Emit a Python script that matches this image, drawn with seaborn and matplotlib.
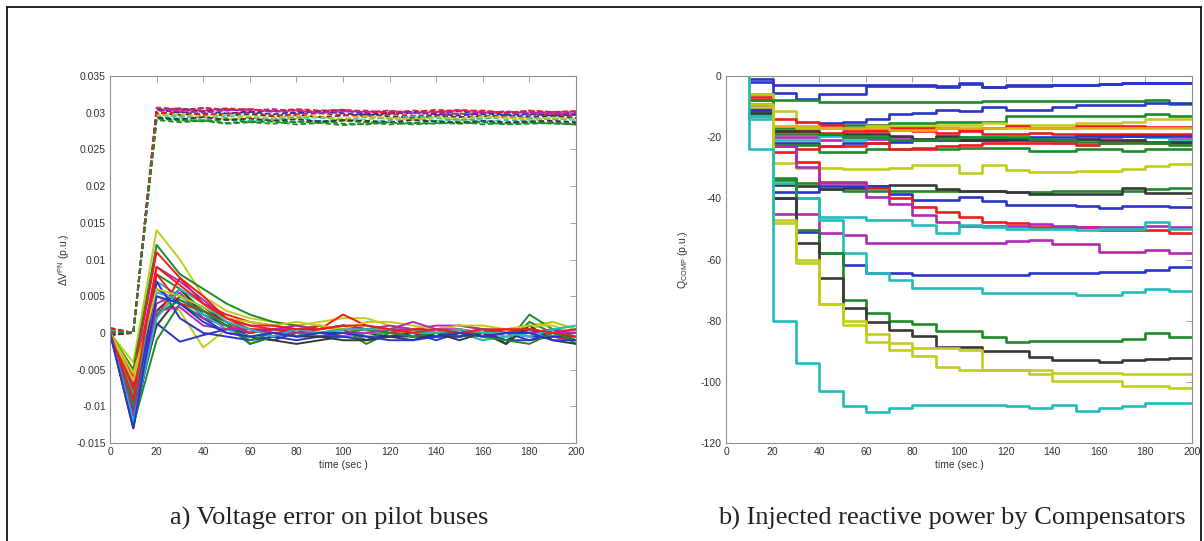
import matplotlib
matplotlib.use("Agg")
import matplotlib.pyplot as plt
import numpy as np
import pandas as pd
import seaborn as sns
from matplotlib.ticker import FuncFormatter, MultipleLocator
from matplotlib.lines import Line2D

# ---------------- data ----------------
t_left = list(range(0, 201, 10))

# voltage error, solid lines (values in 1e-3 p.u.)
solid_colors = ["y", "g", "r", "m", "g", "c", "b", "y", "k", "r", "b", "g",
                "m", "c", "b", "r", "k", "y", "g", "m", "c", "r", "b"]
solid_values = [
    [0, -4, 14, 10, 5, 3, 2, 1.5, 1, 1.5, 2, 2, 1, 0.5, 0, 0.5, 0, 0.5, 1, 1.5, 0.5],
    [0, -5, 12, 8, 6, 4, 2.5, 1.5, 1, 0.5, 1, 0.5, 0, 0.5, 0, -0.5, 0, 0, 0.5, 0, -1],
    [0, -6, 11, 7.5, 4, 2.5, 1.5, 1, 0.5, 0.5, 2.5, 1, 0.5, 0, 0, 0.5, -0.5, 0, 0, 0.5, 0],
    [0, -7, 9, 7, 4.5, 2, 1, 0.5, 1, 0.5, 1, 0.5, 1, 0.5, 0.5, 1, 0.5, 0, 0, 0.5, 0],
    [0, -8, 8, 6, 3, 1.5, -1.5, -0.5, 0, 0, 0.5, -1.5, 0, 0, 0.5, 0, 0.5, -1.5, 2.5, 0.5, -1.5],
    [0, -9, 7, 5, 3, 1, 0, 0.5, 0, -0.5, 0, 0, 0.5, 0, 0, -0.5, 0, -0.5, 0, 0, 0.5],
    [0, -10, 6, 4, 2, 0, -0.5, -1, 0, -0.5, 0, -0.5, -0.5, 0, -1, 0, 0, 0, -1, 0, 0],
    [0, -5.5, 5, 3, -2, 0.5, 0.5, 0, 0.5, 1, 0, 0.5, 0, 0, 0.5, 0, -1, 0, 0.5, 1.5, 0.5],
    [0, -13, 3, 6, 2.5, 1, -0.5, -1, -1.5, -1, -0.5, 0, -0.5, 0, -0.5, -0.5, 0, -1, 0.5, -0.5, -1],
    [0, -11, 2, 7.5, 5, 2, 0.5, 0.5, 0, 0.5, 1, 0.5, 0, 0.5, 0, 0, -0.5, 0, 0, -0.5, -1],
    [0, -12, 1.3, -1.2, -0.3, 0.5, 0, 0.5, 0, 0, -0.5, 0, 0, -0.5, -0.5, 0, 0, 0, -0.5, -0.5, 0],
    [0, -12.5, -1, 4, 2, 1, -1.5, -0.5, 0, 0, 0.5, -1, 0.5, 0, 0, -0.5, 0, -1.5, 1.5, 0, -1],
    [0, -9.5, 4, 5.5, 2, 1, 0, 0.5, 0.5, 1, 0.5, 0.5, 0.5, 0.5, 1, 1, 0.5, 0, 0.5, 0, 0],
    [0, -8.5, 5.5, 4.5, 2.5, 0.5, -0.5, 0, 0, -0.5, -0.5, 0, 0, 0.5, 0, 0, -1, -0.5, 0, -0.5, 0.5],
    [0, -11.5, 7, 2, 0, -0.5, -1, -0.5, -1, -0.5, -0.5, -1, -0.5, -0.5, -0.5, -0.5, 0, -1, -1, -0.5, -0.5],
    [0, -7.5, 8, 4, 3, 1.5, 0, 0.5, 0, 1, 0.5, 0.5, 0, 0.5, 0.5, 0, 0, 0.5, 0, 0, -0.5],
    [0, -10.5, 1, 5, 3.5, 1.5, 0.5, 0, -0.5, -0.5, -1, -1, -0.5, -1, 0, -1, 0, -1.5, 1, -1, -1.5],
    [0, -6.5, 6, 5, 3.5, 2, 1.5, 1, 1.5, 1, 0.5, 1.5, 1.5, 1, 0.5, 1, 1, 0.5, 1, 1, 0],
    [0, -10, 2.5, 4.5, 3, 1, -1, 0, -0.5, 0, 0, 0.5, 0, -0.5, 0, 0, -0.5, -1, -1.5, 0, -1],
    [0, -11, 3, 3.5, 1, 0.5, 0.5, 0, 0, 0, 0, 0, 0.5, 1.5, 0.5, 0.5, 0, 0, 0, 0, 0],
    [0, -12, 2, 6, 4, 1.5, 0.5, -0.5, 0.5, 0, 0.5, 0.5, 0.5, 0, 0, 0.5, 0, 0, -0.5, 0.5, 1],
    [0, -9, 9, 6.5, 4, 2, 1, 1, 0.5, 0.5, 1, 1, 0.5, 0, 0.5, 0, 0.5, 0.5, 0.5, 0, 0.5],
    [0, -13, 5, 4, 1.5, 0, -0.5, 0, -0.5, 0, 0, -0.5, -1, -1, -0.5, 0, -0.5, 0, 0, -1, -1],
]

# voltage error, dashed lines (values in 1e-3 p.u.)
dashed_colors = ["r", "b", "m", "g", "c", "y", "k", "r", "b", "g", "c", "m", "y", "k", "r", "g"]
dashed_values = [
    [0.5, 0, 30.5, 30.4, 30.6, 30.3, 30.5, 30.2, 30.4, 30.1, 30.3, 30.0, 30.2, 30.1, 30.4, 30.2, 30.3, 30.0, 30.2, 30.1, 30.2],
    [0.3, 0, 30.3, 30.6, 30.2, 30.5, 30.1, 30.3, 29.9, 30.2, 30.4, 29.8, 30.0, 30.1, 29.9, 30.2, 29.8, 30.1, 29.9, 30.0, 29.8],
    [0.6, 0, 30.6, 30.2, 30.7, 30.4, 30.3, 30.5, 30.2, 30.0, 30.1, 30.3, 29.9, 30.0, 30.2, 29.8, 30.0, 29.9, 30.1, 29.8, 29.9],
    [-0.2, 0, 29.2, 28.9, 29.0, 28.6, 28.8, 29.0, 28.7, 28.9, 28.5, 28.4, 28.7, 28.6, 28.9, 28.6, 28.8, 28.5, 28.6, 28.7, 28.5],
    [0, 0, 29.5, 29.2, 29.0, 29.3, 28.9, 29.1, 29.4, 28.8, 29.0, 28.7, 29.0, 29.2, 28.9, 29.1, 28.8, 29.0, 28.9, 29.2, 29.0],
    [0.4, 0, 29.8, 29.4, 29.6, 29.1, 29.3, 29.0, 29.2, 29.5, 28.9, 29.1, 29.3, 29.0, 29.4, 29.0, 29.2, 29.3, 29.1, 29.4, 29.2],
    [0.2, 0, 30.0, 29.7, 29.9, 29.6, 29.8, 29.5, 29.7, 29.4, 29.6, 29.8, 29.5, 29.3, 29.6, 29.4, 29.5, 29.7, 29.4, 29.6, 29.3],
    [-0.3, 0, 29.9, 30.1, 29.7, 29.9, 30.0, 29.6, 29.8, 29.9, 29.7, 29.5, 29.8, 29.6, 29.7, 29.9, 29.6, 29.5, 29.7, 29.8, 29.6],
    [0.7, 0, 30.4, 30.0, 30.2, 29.9, 30.1, 29.8, 30.0, 30.2, 29.9, 29.7, 29.9, 30.0, 29.8, 29.6, 29.9, 29.7, 29.8, 29.6, 29.7],
    [0.1, 0, 29.4, 29.0, 28.8, 29.1, 28.7, 28.5, 28.8, 28.6, 28.9, 28.7, 28.4, 28.6, 28.5, 28.8, 28.4, 28.6, 28.7, 28.5, 28.4],
    [0.5, 0, 29.7, 29.5, 29.3, 29.6, 29.4, 29.2, 29.5, 29.3, 29.1, 29.4, 29.2, 29.5, 29.3, 29.0, 29.2, 29.4, 29.3, 29.1, 29.2],
    [-0.1, 0, 30.2, 30.4, 30.0, 30.3, 30.5, 30.1, 30.3, 30.0, 30.2, 30.1, 30.3, 29.9, 30.1, 30.3, 30.0, 30.2, 29.9, 30.1, 30.0],
    [0.3, 0, 29.6, 29.8, 29.4, 29.7, 29.5, 29.3, 29.6, 29.4, 29.2, 29.5, 29.3, 29.1, 29.4, 29.2, 29.5, 29.3, 29.0, 29.3, 29.1],
    [-0.3, 0, 29.3, 29.1, 29.4, 29.0, 29.2, 28.9, 29.1, 28.8, 29.0, 28.9, 28.7, 29.0, 28.8, 28.6, 28.9, 28.7, 28.8, 28.9, 28.7],
    [0.6, 0, 30.7, 30.5, 30.3, 30.6, 30.4, 30.2, 30.5, 30.3, 30.4, 30.2, 30.0, 30.3, 30.1, 30.4, 30.2, 30.0, 30.3, 30.1, 30.2],
    [0.2, 0, 29.0, 28.7, 28.9, 28.5, 28.7, 28.8, 28.4, 28.6, 28.3, 28.5, 28.7, 28.4, 28.6, 28.5, 28.7, 28.4, 28.5, 28.6, 28.4],
]

# injected reactive power, step values at t = 10, 20, ..., 190 (held to 200)
t_right = list(range(10, 191, 10))
t_end = 200
q_start = 0
step_colors = ["b", "b", "g", "b", "g", "y", "r", "r", "m", "c", "b", "g", "r", "k", "g", "o",
               "y", "g", "k", "b", "r", "m", "c", "m", "b", "c", "g", "k", "y", "y", "c"]
step_values = [
    [-1, -3, -3, -3, -3, -3, -3, -3, -3.5, -2.2, -3.7, -3, -3, -3, -3, -2.5, -2.4, -2.4, -2.4],
    [-2, -5.7, -7.6, -6, -6, -3.3, -3.3, -3.3, -3.3, -2.5, -3.6, -3.2, -3.2, -3.0, -2.8, -2.6, -2.4, -2.4, -2.4],
    [-6, -8, -8, -8.5, -8.5, -8.5, -8.5, -8.5, -8.5, -8.5, -8.3, -8.3, -8.3, -8.3, -8.3, -8.3, -8.3, -7.8, -9],
    [-8, -18, -17, -15.5, -15, -14, -12.5, -12, -11, -11.3, -10, -11, -11, -10, -9.5, -9.5, -9.5, -8.8, -8.8],
    [-10, -17, -17, -17, -16, -16, -15.5, -15.5, -15, -15, -15, -13, -13, -13, -13, -13, -13, -12.5, -13],
    [-12, -11.6, -17, -17, -17, -16.5, -16.5, -16.5, -16, -16, -15.5, -16, -16, -16, -15.5, -15.5, -15, -14, -14],
    [-8, -14, -15, -16, -17, -17.5, -17, -17, -17, -17.5, -17, -16.5, -17, -17, -16.5, -16.5, -16.5, -16.6, -16.6],
    [-10, -18, -18, -18.5, -18, -18, -17.5, -18, -18.5, -18, -19, -19, -18.5, -19, -19, -19, -19, -19, -19],
    [-9, -20, -20, -21, -20, -20.5, -20, -20.5, -21, -21, -21, -20.5, -20.5, -21, -20.5, -20, -19.5, -20, -20.5],
    [-14, -21, -21, -19.5, -21, -20, -21, -21, -19.8, -19.8, -20, -20.5, -21, -22, -22.5, -21.5, -21, -20, -21],
    [-12, -22, -22, -23, -22, -22, -21.5, -21, -21, -21, -20.5, -20.5, -20, -20, -19.5, -19.5, -19.5, -19.5, -19.6],
    [-11, -22.5, -22.5, -25, -25, -24, -24, -23.5, -24, -23.5, -23.5, -23.5, -24.5, -24.5, -24, -24, -24.5, -24, -24],
    [-7, -23, -24, -23, -23, -22, -24, -24, -23, -22.5, -22, -22, -22, -22, -22.5, -22, -21.5, -22, -22],
    [-10, -18, -18, -19, -19, -19, -19.5, -20.5, -19.5, -21, -21, -21, -21, -21, -20.5, -21, -21, -21.5, -21.5],
    [-13, -19, -19, -19, -20, -20, -21, -21, -20.5, -20, -20, -20, -20.5, -21, -21.5, -22, -22, -22, -22.5],
    [-13, -16.5, -16.5, -17, -17, -17, -17.5, -17.5, -17, -17, -17, -17, -17, -17, -17, -17, -17, -17, -17],
    [-6, -28.5, -30, -30, -30.5, -30.5, -30, -29, -29, -31.6, -29, -30.7, -31.5, -31.5, -31, -31, -30.5, -29.5, -28.7],
    [-8, -33.5, -35, -37, -37.5, -37.5, -37.5, -37.5, -37.5, -37.5, -37.5, -38, -38, -37.5, -37.5, -37.5, -37.5, -37, -36.7],
    [-12, -35.5, -36, -37, -36.5, -36, -35.5, -35.5, -37, -37.5, -37.5, -38, -38.5, -38.5, -38.5, -38.5, -36.5, -38.3, -38.3],
    [-10, -38, -38, -36, -36, -36, -38.5, -40.5, -40.5, -39.5, -41, -42.2, -42.2, -42.2, -42.5, -43, -42.5, -42.5, -42.7],
    [-9, -25, -28, -34.5, -34.5, -36.7, -40, -42.7, -44.4, -46, -47.6, -48, -49.3, -49.3, -49.3, -50.4, -50.4, -50.4, -51.4],
    [-11, -23, -29.6, -35, -35, -39.5, -42, -45.5, -47.6, -49, -49, -49, -48.5, -49, -49.5, -49.5, -49.5, -49, -49.3],
    [-13, -40, -40, -46, -46, -47, -47, -48.7, -51.4, -48.7, -49.5, -50, -50, -50, -50.5, -50, -50, -47.6, -50],
    [-10, -45, -45, -51.4, -52, -54.7, -54.7, -54.5, -54.5, -54.5, -54.5, -54, -53.6, -55, -55, -57.4, -57.4, -57, -58],
    [-11, -40, -51, -58, -61.8, -64.5, -64.5, -65, -65, -65, -65, -65, -64.5, -64.5, -64.5, -64, -64, -63.5, -62.3],
    [-12, -35, -40, -47, -58, -64.5, -66.7, -69.4, -69.4, -69.4, -71, -71, -71, -71, -71.5, -71.5, -70.5, -69.5, -70.3],
    [-8, -34, -50.4, -58, -73.3, -77.5, -80, -81, -83.4, -83.4, -85.5, -87, -86.5, -86.5, -86.5, -86.5, -86, -84, -85.5],
    [-12, -40, -54.5, -66, -76, -80.3, -83, -85, -88.5, -88.5, -90, -90, -91.8, -93, -93, -93.5, -93, -92.5, -92.3],
    [-10, -48, -60, -74.5, -81.5, -84.5, -87.2, -88.9, -88.9, -89.5, -96, -96, -96, -97, -97, -97, -97.5, -97.5, -97.5],
    [-9, -47, -61, -74.5, -80, -87, -89.6, -91.5, -95, -96, -96, -96, -97.6, -99.8, -99.8, -99.8, -101.5, -101.5, -102],
    [-24, -80, -94, -103, -108, -110, -108.6, -107.6, -107.6, -107.6, -107.6, -108, -108.6, -107.5, -109.6, -108.6, -107.8, -107, -107],
]

left_caption = "a) Voltage error on pilot buses"
right_caption = "b) Injected reactive power by Compensators"

# ---------------- style ----------------
color_map = {"b": "#2a34c8", "g": "#1f8a2a", "r": "#f01c1c", "c": "#22bcbc",
             "m": "#b22ab4", "y": "#c2cc1c", "k": "#383838", "o": "#dcb020"}

sns.set_theme(style="white")
plt.rcParams["font.family"] = ["Liberation Sans", "DejaVu Sans"]
plt.rcParams["mathtext.fontset"] = "custom"
plt.rcParams["mathtext.rm"] = "Liberation Sans"
plt.rcParams["mathtext.it"] = "Liberation Sans"

fig = plt.figure(figsize=(12.04, 5.41), dpi=100)
fig.patch.set_facecolor("white")
ax1 = fig.add_axes([110 / 1204, 1 - 443 / 541, 466 / 1204, 367 / 541])
ax2 = fig.add_axes([726 / 1204, 1 - 443 / 541, 466 / 1204, 367 / 541])

# ---------------- left panel ----------------
rows = []
for i, vals in enumerate(solid_values):
    for t, v in zip(t_left, vals):
        rows.append({"t": t, "v": v / 1000.0, "id": f"s{i}"})
df_s = pd.DataFrame(rows)
pal_s = {f"s{i}": color_map[c] for i, c in enumerate(solid_colors)}

rows = []
for i, vals in enumerate(dashed_values):
    for t, v in zip(t_left, vals):
        rows.append({"t": t, "v": v / 1000.0, "id": f"d{i}"})
df_d = pd.DataFrame(rows)
pal_d = {f"d{i}": color_map[c] for i, c in enumerate(dashed_colors)}

sns.lineplot(data=df_d, x="t", y="v", hue="id", palette=pal_d, estimator=None,
             errorbar=None, legend=False, sort=False, lw=1.3, linestyle=(0, (3, 1.6)), ax=ax1)
sns.lineplot(data=df_s, x="t", y="v", hue="id", palette=pal_s, estimator=None,
             errorbar=None, legend=False, sort=False, lw=1.4, ax=ax1)

ax1.set_xlim(0, 200)
ax1.set_ylim(-0.015, 0.035)
ax1.xaxis.set_major_locator(MultipleLocator(20))
ax1.yaxis.set_major_locator(MultipleLocator(0.005))
ax1.yaxis.set_major_formatter(FuncFormatter(lambda v, p: "%g" % round(v, 4)))
ax1.set_xlabel("time (sec )", fontsize=7.5, color="#333333", labelpad=2)
ax1.set_ylabel(r"$\Delta$V$^{PN}$ (p.u.)", fontsize=7.5, color="#333333", labelpad=3)

# ---------------- right panel ----------------
rows = []
for i, vals in enumerate(step_values):
    ts = [t_right[0]] + t_right + [t_end]
    vs = [q_start] + vals + [vals[-1]]
    for t, v in zip(ts, vs):
        rows.append({"t": t, "v": v, "id": f"q{i}"})
df_q = pd.DataFrame(rows)
pal_q = {f"q{i}": color_map[c] for i, c in enumerate(step_colors)}

sns.lineplot(data=df_q, x="t", y="v", hue="id", palette=pal_q, estimator=None,
             errorbar=None, legend=False, sort=False, lw=1.9, drawstyle="steps-post", ax=ax2)

ax2.set_xlim(0, 200)
ax2.set_ylim(-120, 0)
ax2.xaxis.set_major_locator(MultipleLocator(20))
ax2.yaxis.set_major_locator(MultipleLocator(20))
ax2.yaxis.set_major_formatter(FuncFormatter(lambda v, p: "%g" % v))
ax2.set_xlabel("time (sec.)", fontsize=7.5, color="#333333", labelpad=2)
ax2.set_ylabel(r"Q$_{COMP}$ (p.u.)", fontsize=7.5, color="#333333", labelpad=8)

for ax in (ax1, ax2):
    ax.set_facecolor("white")
    for s in ax.spines.values():
        s.set_color("#909090")
        s.set_linewidth(0.8)
    ax.tick_params(direction="in", top=True, right=True, length=4, width=0.6,
                   color="#909090", labelsize=7.5, labelcolor="#333333", pad=3)

# captions
fig.text(170 / 1204, 1 - 525 / 541, left_caption, ha="left", va="baseline",
         fontsize=19, family="Liberation Serif", color="#222222")
fig.text(718 / 1204, 1 - 525 / 541, right_caption, ha="left", va="baseline",
         fontsize=19, family="Liberation Serif", color="#222222")

# outer frame
fig.add_artist(Line2D([7 / 1204, 7 / 1204], [0, 1 - 7 / 541], transform=fig.transFigure, color="black", lw=1.2))
fig.add_artist(Line2D([1201 / 1204, 1201 / 1204], [0, 1 - 7 / 541], transform=fig.transFigure, color="black", lw=1.2))
fig.add_artist(Line2D([7 / 1204, 1201 / 1204], [1 - 7 / 541, 1 - 7 / 541], transform=fig.transFigure, color="black", lw=1.2))

fig.savefig("out.png", dpi=100, facecolor="white")
